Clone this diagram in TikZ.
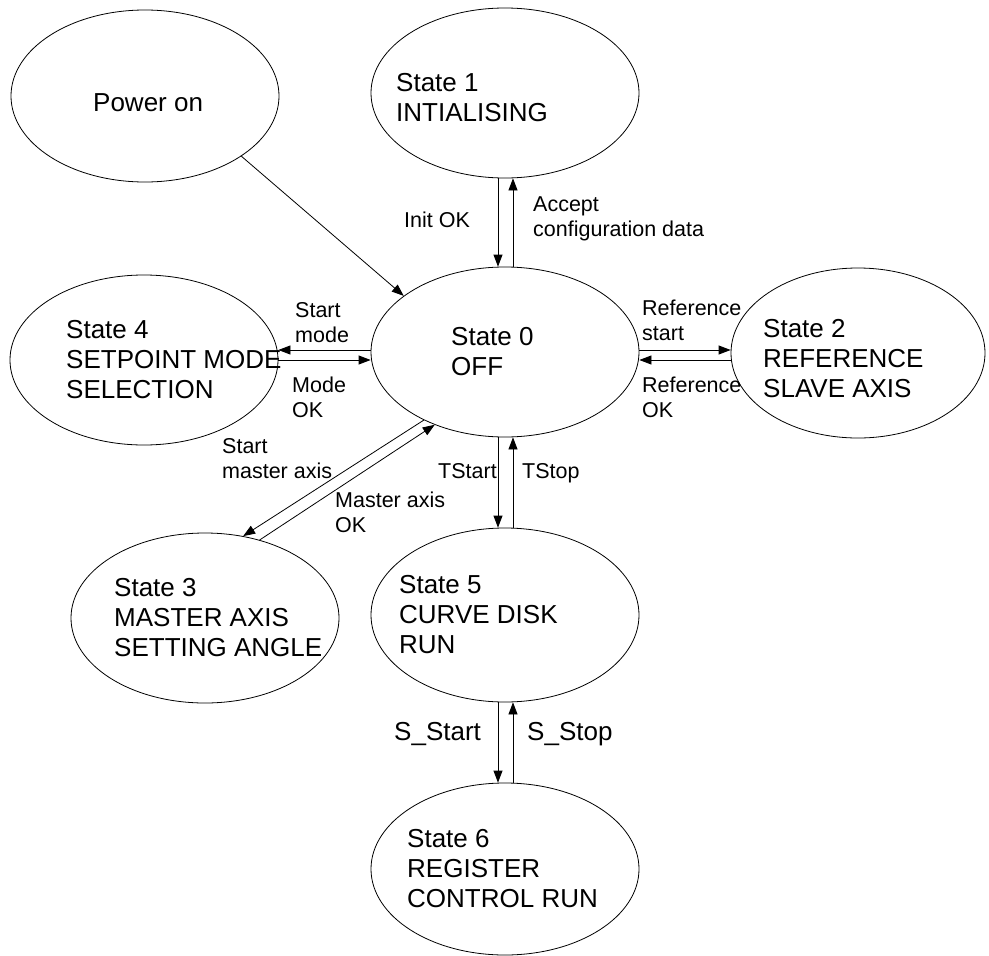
\documentclass[tikz,border=0pt]{standalone}
\usepackage{fontspec}
\setmainfont{Liberation Sans}
\usetikzlibrary{shapes.geometric,arrows.meta}
\begin{document}
\begin{tikzpicture}[x=1pt,y=-1pt,
  st/.style={ellipse,draw,line width=0.8pt,minimum width=268pt,minimum height=170pt,inner sep=0pt},
  stt/.style={anchor=base west,align=left,inner sep=0pt,font=\fontsize{26}{30}\selectfont},
  lbl/.style={anchor=base west,align=left,inner sep=0pt,font=\fontsize{21.5}{25}\selectfont},
  arr/.style={line width=0.8pt,-{Triangle[length=12pt,width=9pt]}}]
\useasboundingbox (0,0) rectangle (989,956);
% states
\node[st,minimum height=172pt] (pwr) at (145,96) {};
\node[st] (s1) at (505,93) {};
\node[st] (s0) at (505,352) {};
\node[st] (s4) at (144,360) {};
\node[st,minimum width=254pt] (s2) at (858,353) {};
\node[st] (s3) at (205,618) {};
\node[st,minimum height=174pt] (s5) at (505,615) {};
\node[st,minimum height=172pt] (s6) at (505,869) {};
% state texts (anchor = baseline of last line)
\node[stt] (tpwr) at (93,111) {Power on};
\node[stt] (t1) at (396,121) {State 1\\INTIALISING};
\node[stt] (t4) at (66,398) {State 4\\SETPOINT MODE\\SELECTION};
\node[stt] (t0) at (451,375) {State 0\\OFF};
\node[stt] (t2) at (763,397) {State 2\\REFERENCE\\SLAVE AXIS};
\node[stt] (t3) at (114,656) {State 3\\MASTER AXIS\\SETTING ANGLE};
\node[stt] (t5) at (399,653) {State 5\\CURVE DISK\\RUN};
\node[stt] (t6) at (407,907) {State 6\\REGISTER\\CONTROL RUN};
% connectors
\draw[arr] (pwr.-32) -- (s0.151);
\draw[arr] ([xshift=-7pt]s1.south) -- ([xshift=-7pt]s0.north);
\draw[arr] ([xshift=8pt]s0.north) -- ([xshift=8pt]s1.south);
\draw[arr] (s0.west |- 0,350) -- (s4.east |- 0,350);
\draw[arr] (s4.east |- 0,360) -- (s0.west |- 0,360);
\draw[arr] (s0.east |- 0,350) -- (s2.west |- 0,350);
\draw[arr] (s2.west |- 0,360) -- (s0.east |- 0,360);
\draw[arr] (s0.-140) -- (s3.65);
\draw[arr] (s3.55) -- (s0.-134);
\draw[arr] ([xshift=-7pt]s0.south) -- ([xshift=-7pt]s5.north);
\draw[arr] ([xshift=8pt]s5.north) -- ([xshift=8pt]s0.south);
\draw[arr] ([xshift=-7pt]s5.south) -- ([xshift=-7pt]s6.north);
\draw[arr] ([xshift=8pt]s6.north) -- ([xshift=8pt]s5.south);
% labels (anchor = baseline of last line)
\node[lbl] (linit) at (404,227) {Init OK};
\node[lbl] (lacc) at (533,236) {Accept\\configuration data};
\node[lbl] (lsm) at (295,342) {Start\\mode};
\node[lbl] (lmok) at (292,417) {Mode\\OK};
\node[lbl] (lrs) at (642,340) {Reference\\start};
\node[lbl] (lrok) at (642,417) {Reference\\OK};
\node[lbl] (lsma) at (222,478) {Start\\master axis};
\node[lbl] (lmaok) at (335,532) {Master axis\\OK};
\node[lbl] (lts) at (438,478) {TStart};
\node[lbl] (ltp) at (522,478) {TStop};
\node[stt] (lss) at (394,740) {S\_Start};
\node[stt] (lsp) at (527,740) {S\_Stop};
\end{tikzpicture}
\end{document}
